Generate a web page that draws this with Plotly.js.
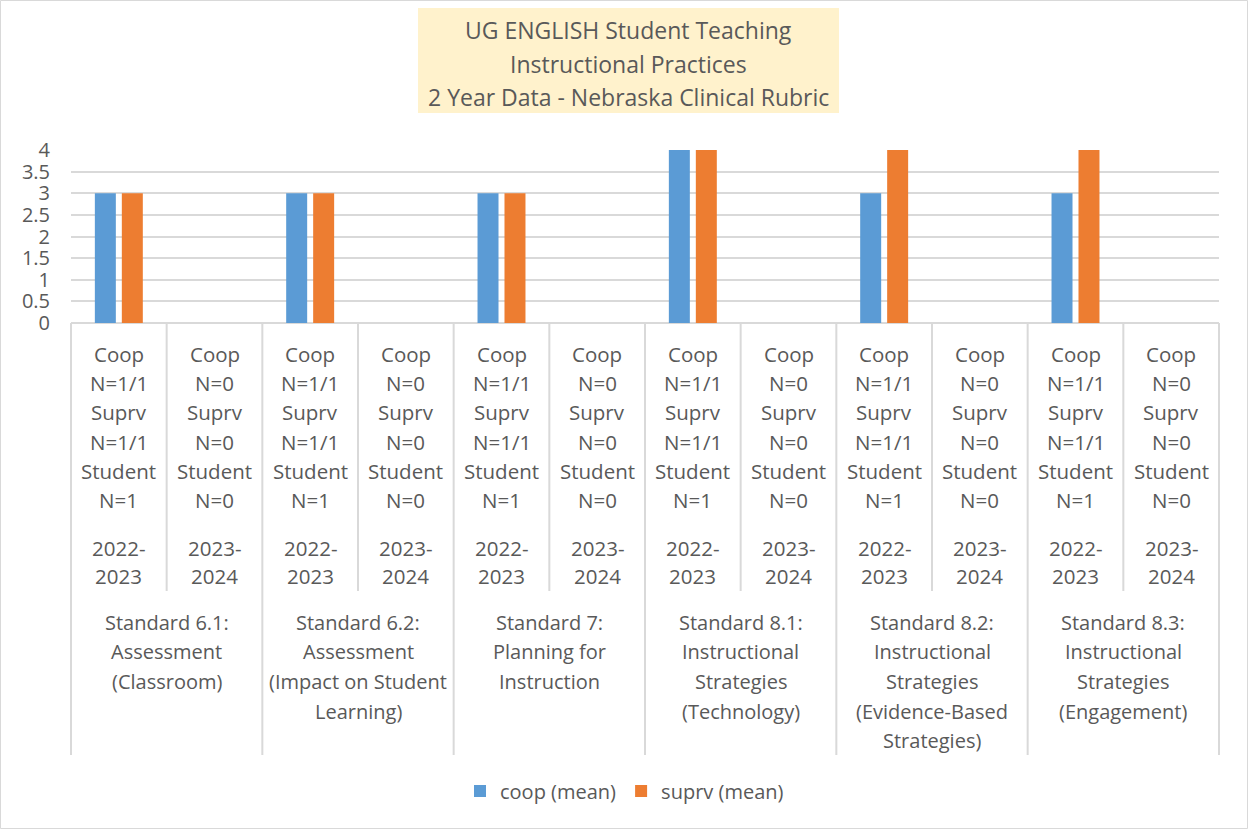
<!DOCTYPE html>
<html>
<head>
<meta charset="utf-8">
<script src="https://cdn.plot.ly/plotly-3.0.1.min.js"></script>
<style>html,body{margin:0;padding:0;background:#fff;}#chart{width:1249px;height:830px;}</style>
</head>
<body>
<div id="chart"></div>
<script>
// ---- data ----
const standardLabels = [
  ["Standard 6.1:", "Assessment", "(Classroom)"],
  ["Standard 6.2:", "Assessment", "(Impact on Student", "Learning)"],
  ["Standard 7:", "Planning for", "Instruction"],
  ["Standard 8.1:", "Instructional", "Strategies", "(Technology)"],
  ["Standard 8.2:", "Instructional", "Strategies", "(Evidence-Based", "Strategies)"],
  ["Standard 8.3:", "Instructional", "Strategies", "(Engagement)"]
];
const periods = ["2022-2023", "2023-2024"];
const periodLines = [["2022-", "2023"], ["2023-", "2024"]];
const coopN = ["N=1/1", "N=0"];
const suprvN = ["N=1/1", "N=0"];
const studentN = ["N=1", "N=0"];
const coopMean = [3, null, 3, null, 3, null, 4, null, 3, null, 3, null];
const suprvMean = [3, null, 3, null, 3, null, 4, null, 4, null, 4, null];
const seriesNames = ["coop (mean)", "suprv (mean)"];
const titleLines = ["UG ENGLISH Student Teaching", "Instructional Practices", "2 Year Data - Nebraska Clinical Rubric"];

// ---- layout geometry ----
const W = 1249, H = 830;
const mL = 71, mR = 30, mT = 150, mB = 507;
const pw = W - mL - mR, ph = H - mT - mB;
const px2x = p => (p - mL) / pw;
const py2y = p => (H - mB - p) / ph;
const FONT = "Open Sans, Noto Sans, sans-serif";
const TXT = "#595959";
const GRID = "#D9D9D9";

const cats = [];
standardLabels.forEach((s, i) => periods.forEach(p => cats.push(s[0] + " " + p)));
const nCat = cats.length;

const traces = [
  {type: "bar", name: seriesNames[0], x: cats, y: coopMean, marker: {color: "#5B9BD5"}, hoverinfo: "y"},
  {type: "bar", name: seriesNames[1], x: cats, y: suprvMean, marker: {color: "#ED7D31"}, hoverinfo: "y"}
];

const annotations = [];
const shapes = [];

// outer border
shapes.push({type: "rect", xref: "paper", yref: "paper",
  x0: px2x(0.5), x1: px2x(W - 1.5), y0: py2y(H - 1.5), y1: py2y(0.5),
  line: {color: GRID, width: 1}, fillcolor: "rgba(0,0,0,0)", layer: "below"});

// title box
shapes.push({type: "rect", xref: "paper", yref: "paper",
  x0: px2x(418), x1: px2x(839), y0: py2y(113), y1: py2y(8),
  line: {width: 0}, fillcolor: "#FFF2CC", layer: "below"});
titleLines.forEach((t, k) => annotations.push({
  text: t, xref: "paper", yref: "paper", x: px2x(628.5), y: py2y(30 + k * 33.5),
  xanchor: "center", yanchor: "middle", showarrow: false,
  font: {family: FONT, size: 23, color: TXT}
}));

// category labels
cats.forEach((c, i) => {
  const p = i % 2;
  const lines = ["Coop", coopN[p], "Suprv", suprvN[p], "Student", studentN[p]];
  const cx = (i + 0.5) / nCat;
  lines.forEach((t, k) => annotations.push({
    text: t, xref: "paper", yref: "paper", x: cx, y: py2y(354 + k * 29.2),
    xanchor: "center", yanchor: "middle", showarrow: false,
    font: {family: FONT, size: 20.5, color: TXT}
  }));
  periodLines[p].forEach((t, k) => annotations.push({
    text: t, xref: "paper", yref: "paper", x: cx, y: py2y(548 + k * 28),
    xanchor: "center", yanchor: "middle", showarrow: false,
    font: {family: FONT, size: 20.5, color: TXT}
  }));
});
standardLabels.forEach((s, g) => {
  const cx = (2 * g + 1) / nCat;
  s.forEach((t, k) => annotations.push({
    text: t, xref: "paper", yref: "paper", x: cx, y: py2y(622 + k * 29.7),
    xanchor: "center", yanchor: "middle", showarrow: false,
    font: {family: FONT, size: 20, color: TXT}
  }));
});

// separators
for (let b = 0; b <= nCat; b++) {
  const isGroup = b % 2 === 0;
  shapes.push({type: "line", xref: "paper", yref: "paper",
    x0: b / nCat, x1: b / nCat, y0: 0, y1: py2y(isGroup ? 755 : 591),
    line: {color: GRID, width: 2}});
}

const layout = {
  width: W, height: H,
  margin: {l: mL, r: mR, t: mT, b: mB, pad: 0},
  paper_bgcolor: "#fff", plot_bgcolor: "#fff",
  barmode: "group", bargap: 0.436, bargroupgap: 0.222,
  showlegend: true,
  legend: {orientation: "h", xref: "container", yref: "container", x: 0.5, xanchor: "center",
    y: 1 - 791 / H, yanchor: "middle", font: {family: FONT, size: 20, color: TXT},
    itemwidth: 30, traceorder: "normal"},
  xaxis: {type: "category", categoryorder: "array", categoryarray: cats, showticklabels: false,
    showgrid: false, zeroline: false, showline: false, ticks: "", fixedrange: true},
  yaxis: {range: [0, 4], dtick: 0.5, tick0: 0, showgrid: true, gridcolor: GRID, gridwidth: 2,
    zeroline: true, zerolinecolor: GRID, zerolinewidth: 2, showline: false, ticks: "",
    ticklabelstandoff: 20, tickfont: {family: FONT, size: 20, color: TXT}, fixedrange: true},
  annotations: annotations,
  shapes: shapes
};

Plotly.newPlot("chart", traces, layout, {displayModeBar: false, staticPlot: true});
</script>
</body>
</html>
